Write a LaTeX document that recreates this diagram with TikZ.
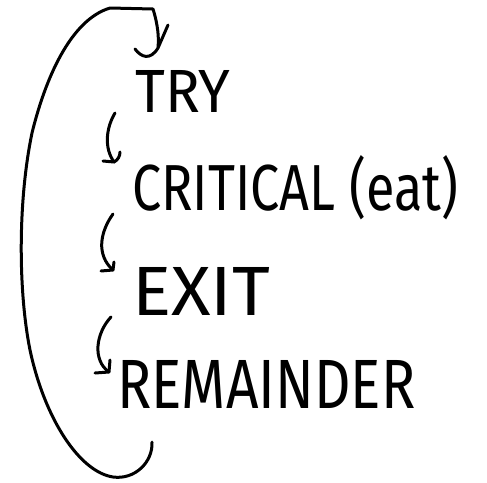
\documentclass[tikz,border=0pt]{standalone}
\usepackage{fontspec}
\setmainfont{Fira Sans}
\begin{document}
\begin{tikzpicture}[x=1pt,y=-1pt,
  pen/.style={line width=3pt, line cap=round, line join=round},
  word/.style={inner sep=0pt, anchor=base west}]
\useasboundingbox (0,0) rectangle (487,482);

% the four states of the cycle
\node[word] (try)  at (135,112) {\resizebox{95pt}{42pt}{TRY}};
\node[word] (crit) at (132,210) {\resizebox{326pt}{55pt}{CRITICAL (eat)}};
\node[word] (exit) at (132,315) {\resizebox{138pt}{48pt}{EXIT}};
\node[word] (rem)  at (117,408) {\resizebox{298pt}{48pt}{REMAINDER}};

% end points of the step arrows
\coordinate (tc-s) at (115,113);  \coordinate (tc-e) at (114,162);
\coordinate (ce-s) at (113,214);  \coordinate (ce-e) at (113,270);
\coordinate (er-s) at (111,317);  \coordinate (er-e) at (109,372);

% TRY -> CRITICAL
\draw[pen] (tc-s) .. controls (106,128) and (104,148) .. (tc-e);
\draw[pen] ([shift={(-11,-1)}]tc-e) -- (tc-e) .. controls (118,160) and (120,156) .. (120,152);
% CRITICAL -> EXIT
\draw[pen] (ce-s) .. controls (100,232) and (96,255) .. (ce-e);
\draw[pen] ([shift={(-12,1)}]ce-e) -- (ce-e) -- ++(1,-8);
% EXIT -> REMAINDER
\draw[pen] (er-s) .. controls (96,333) and (92,360) .. (er-e);
\draw[pen] ([shift={(-14,1)}]er-e) -- (er-e) -- ++(1,-12);

% the long loop from REMAINDER back up to TRY
\coordinate (loop-s) at (152,442);
\coordinate (loop-e) at (158,47);
\draw[pen] (loop-s) .. controls (153,462) and (135,480) .. (113,477)
  .. controls (80,472) and (45,420) .. (30,350)
  .. controls (18,290) and (18,200) .. (32,133)
  .. controls (45,80) and (70,20) .. (110,8)
  -- (153,9) .. controls (158,25) and (159,38) .. (loop-e);
\draw[pen] (135,49) .. controls (141,57) and (150,61) .. (158,48) -- (168,25);
\end{tikzpicture}
\end{document}
